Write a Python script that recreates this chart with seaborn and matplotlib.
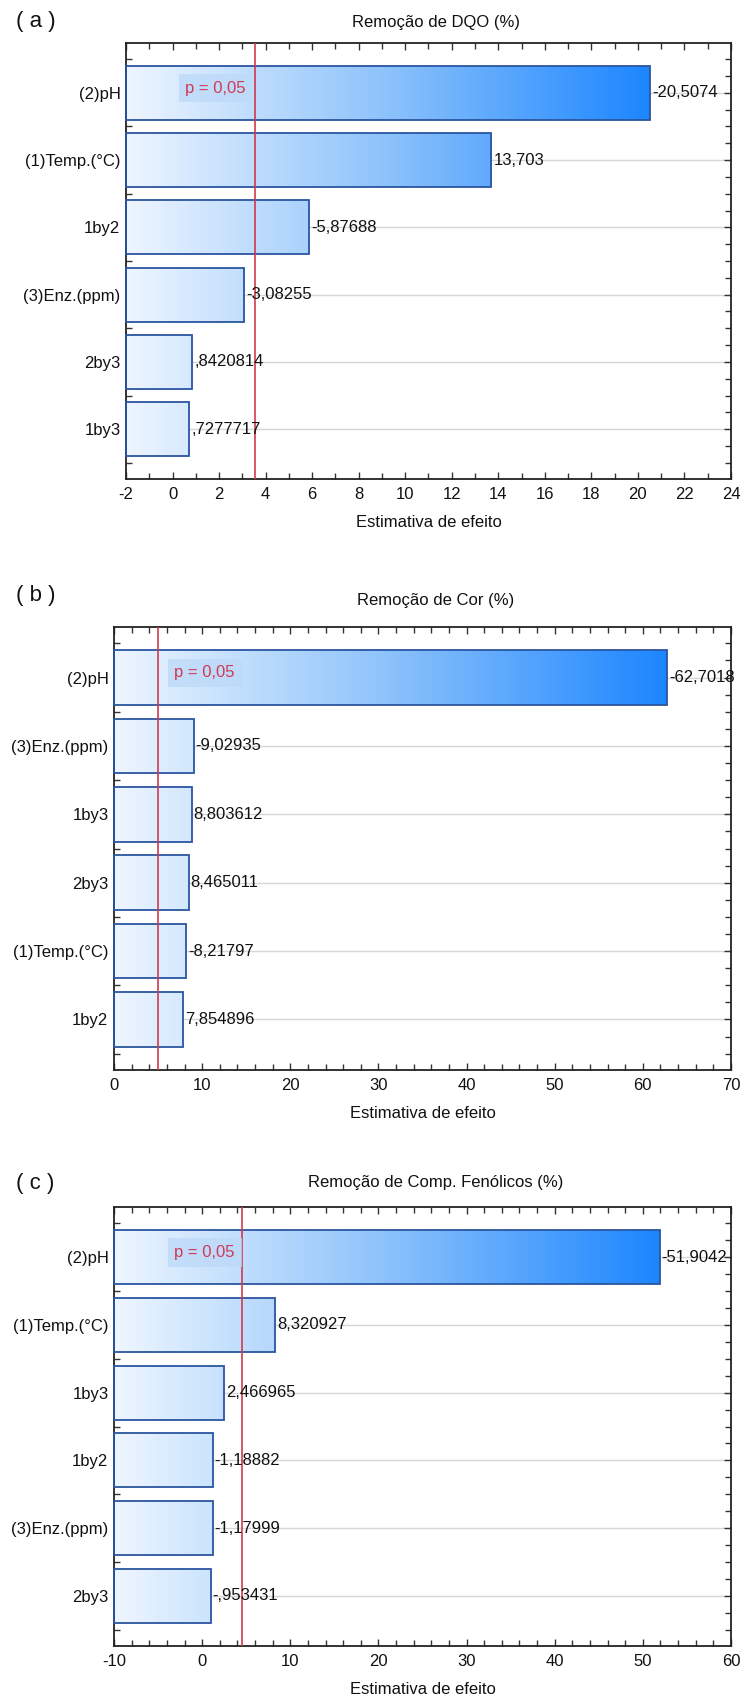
import numpy as np
import pandas as pd
import matplotlib
matplotlib.use("Agg")
import matplotlib.pyplot as plt
import matplotlib.transforms as mtransforms
import seaborn as sns
from matplotlib.colors import LinearSegmentedColormap
from matplotlib.ticker import MultipleLocator

# ---------------- data ----------------
title_a = "Remoção de DQO (%)"
cats_a = ["(2)pH", "(1)Temp.(°C)", "1by2", "(3)Enz.(ppm)", "2by3", "1by3"]
effects_a = [-20.5074, 13.703, -5.87688, -3.08255, 0.8420814, 0.7277717]
labels_a = ["-20,5074", "13,703", "-5,87688", "-3,08255", ",8420814", ",7277717"]
pcrit_a = 3.55
xlim_a = (-2, 24)

title_b = "Remoção de Cor (%)"
cats_b = ["(2)pH", "(3)Enz.(ppm)", "1by3", "2by3", "(1)Temp.(°C)", "1by2"]
effects_b = [-62.7018, -9.02935, 8.803612, 8.465011, -8.21797, 7.854896]
labels_b = ["-62,7018", "-9,02935", "8,803612", "8,465011", "-8,21797", "7,854896"]
pcrit_b = 4.95
xlim_b = (0, 70)

title_c = "Remoção de Comp. Fenólicos (%)"
cats_c = ["(2)pH", "(1)Temp.(°C)", "1by3", "1by2", "(3)Enz.(ppm)", "2by3"]
effects_c = [-51.9042, 8.320927, 2.466965, -1.18882, -1.17999, -0.953431]
labels_c = ["-51,9042", "8,320927", "2,466965", "-1,18882", "-1,17999", "-,953431"]
pcrit_c = 4.5
xlim_c = (-10, 60)

p_text = "p = 0,05"
xlabel = "Estimativa de efeito"

# ---------------- style ----------------
sns.set_style("ticks")
plt.rcParams["font.family"] = ["Liberation Sans", "DejaVu Sans"]
plt.rcParams["axes.unicode_minus"] = False

W, H = 742, 1701
fig = plt.figure(figsize=(W / 100, H / 100), dpi=100)

cmap = LinearSegmentedColormap.from_list("bluegrad", ["#eef6ff", "#8cc2fb", "#1c86ff"])

panels = [
    dict(letter="( a )", title=title_a, cats=cats_a, eff=effects_a, labels=labels_a,
         pcrit=pcrit_a, xlim=xlim_a, major=2, minor=1,
         rect=(126, 43, 731, 479), title_y=22, letter_y=22),
    dict(letter="( b )", title=title_b, cats=cats_b, eff=effects_b, labels=labels_b,
         pcrit=pcrit_b, xlim=xlim_b, major=10, minor=2,
         rect=(114, 627, 731, 1070), title_y=600, letter_y=595),
    dict(letter="( c )", title=title_c, cats=cats_c, eff=effects_c, labels=labels_c,
         pcrit=pcrit_c, xlim=xlim_c, major=10, minor=2,
         rect=(114, 1207, 731, 1646), title_y=1182, letter_y=1183),
]

for sp in panels:
    x0, y0, x1, y1 = sp["rect"]
    ax = fig.add_axes([x0 / W, 1 - y1 / H, (x1 - x0) / W, (y1 - y0) / H])
    vals = np.abs(np.array(sp["eff"]))
    df = pd.DataFrame({"cat": sp["cats"], "eff": vals})
    sns.barplot(data=df, x="eff", y="cat", order=sp["cats"], orient="h", ax=ax,
                color="white", edgecolor="#2b55a0", linewidth=1.3, width=0.8,
                errorbar=None, zorder=3)
    xmin, xmax = sp["xlim"]
    patches = list(ax.containers[0])
    for p, v in zip(patches, vals):
        p.set_x(xmin)
        p.set_width(v - xmin)
        p.set_facecolor("none")
        p.set_zorder(3)
        p.set_clip_on(False)

    # gradient fill clipped to each bar
    grad = np.linspace(0, 1, 512).reshape(1, -1)
    for p in patches:
        im = ax.imshow(grad, extent=(xmin, vals.max(), -1, 6), aspect="auto",
                       cmap=cmap, zorder=2, interpolation="bilinear")
        im.set_clip_path(p)

    ax.set_xlim(xmin, xmax)
    ax.set_ylim(5.74, -0.74)

    # grid lines at categories
    ax.set_axisbelow(True)
    ax.grid(axis="y", which="major", color="#d6d6d6", linewidth=1.0)
    ax.grid(axis="x", visible=False)

    # critical line
    ax.axvline(sp["pcrit"], color="#cf3b4a", linewidth=1.2, zorder=4)

    # p label
    trans = mtransforms.blended_transform_factory(ax.transAxes, ax.transData)
    ax.text(0.098, -0.07, p_text, transform=trans, ha="left", va="center",
            color="#d03a55", fontsize=12, zorder=5,
            bbox=dict(boxstyle="square,pad=0.4", fc="#bcd9f8", ec="none", alpha=0.75))

    # value labels
    ax.bar_label(ax.containers[0], labels=sp["labels"], padding=1.5, fontsize=12,
                 color="#111111", clip_on=False, zorder=6)

    # ticks
    ax.xaxis.set_major_locator(MultipleLocator(sp["major"]))
    ax.xaxis.set_minor_locator(MultipleLocator(sp["minor"]))
    ax.yaxis.set_minor_locator(MultipleLocator(0.25))
    ax.tick_params(which="both", direction="in", top=True, right=True,
                   color="#333333", width=1.0)
    ax.tick_params(which="major", length=5)
    ax.tick_params(which="minor", length=4)
    ax.tick_params(axis="x", labelsize=12, pad=6, labelcolor="#111111")
    ax.tick_params(axis="y", labelsize=12, pad=4, labelcolor="#111111")

    for s in ax.spines.values():
        s.set_visible(True)
        s.set_color("#222222")
        s.set_linewidth(1.3)

    ax.set_ylabel("")
    ax.set_xlabel(xlabel, fontsize=12, labelpad=9, color="#111111")

    fig.text(436 / W, 1 - sp["title_y"] / H, sp["title"], ha="center", va="center",
             fontsize=12, color="#111111")
    fig.text(16 / W, 1 - sp["letter_y"] / H, sp["letter"], ha="left", va="center",
             fontsize=16, color="#111111")

fig.savefig("out.png", dpi=100)
